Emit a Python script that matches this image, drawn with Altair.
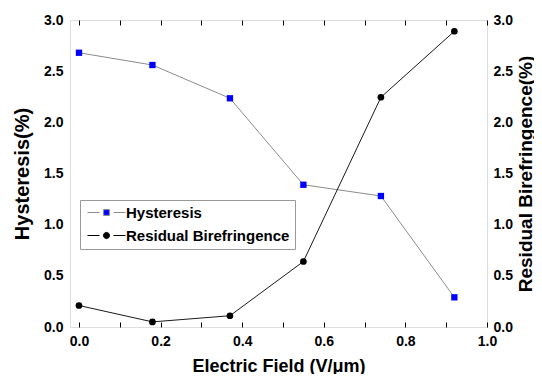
import altair as alt
import pandas as pd

# ---- data ----
field = [0.0, 0.18, 0.37, 0.55, 0.74, 0.92]
hysteresis = [2.68, 2.56, 2.235, 1.39, 1.28, 0.29]
residual = [0.21, 0.05, 0.11, 0.64, 2.245, 2.89]
series_names = ["Hysteresis", "Residual Birefringence"]
x_ticks = [0.0, 0.1, 0.2, 0.3, 0.4, 0.5, 0.6, 0.7, 0.8, 0.9, 1.0]
y_ticks = [0.0, 0.5, 1.0, 1.5, 2.0, 2.5, 3.0]

dfh = pd.DataFrame({"x": field, "y": hysteresis, "series": series_names[0]})
dfr = pd.DataFrame({"x": field, "y": residual, "series": series_names[1]})

FONT = "Liberation Sans"
xscale = alt.Scale(domain=[-0.022, 1.0], nice=False, zero=False)
yscale = alt.Scale(domain=[0, 3.0], nice=False)

bottom_axis = alt.Axis(
    orient="bottom", values=x_ticks, offset=-5, tickSize=5, tickColor="black",
    domain=False, grid=False,
    labelExpr="round(datum.value*10) % 2 == 0 ? format(datum.value, '.1f') : ''",
    labelPadding=7, labelFont=FONT, labelFontSize=14, labelFontWeight="bold",
    labelColor="black", labelFlush=False,
    title="Electric Field (V/\u03bcm)", titleFont=FONT, titleFontSize=18,
    titleFontWeight="bold", titleColor="black", titlePadding=9,
)
top_axis = alt.Axis(
    orient="top", values=x_ticks, offset=-5, tickSize=5, tickColor="black",
    domain=False, grid=False, labels=False, title=None,
)
left_axis = alt.Axis(
    orient="left", values=y_ticks, format=".1f", ticks=False, domain=False,
    grid=False, labelPadding=7, labelFont=FONT, labelFontSize=14,
    labelFontWeight="bold", labelColor="black",
    title="Hysteresis(%)", titleFont=FONT, titleFontSize=20,
    titleFontWeight="bold", titleColor="black", titlePadding=11,
)
right_axis = alt.Axis(
    orient="right", values=y_ticks, format=".1f", ticks=False, domain=False,
    grid=False, labelPadding=6, labelFont=FONT, labelFontSize=14,
    labelFontWeight="bold", labelColor="black",
    title="Residual Birefringence(%)", titleFont=FONT, titleFontSize=19,
    titleFontWeight="bold", titleColor="black", titleAngle=270,
    titleX=38, titleY=153.5, titleAlign="center", titleBaseline="middle",
)

sq_path = "M-3.8,0H-1.4M1.4,0H3.8M-0.58,-0.58H0.58V0.58H-0.58Z"
ci_path = ("M-3.8,0H-1.4M1.4,0H3.8M0.62,0A0.62,0.62 0 1,1 -0.62,0"
           "A0.62,0.62 0 1,1 0.62,0Z")

legend = alt.Legend(
    orient="none", legendX=10, legendY=180, title=None,
    labelFont=FONT, labelFontSize=15, labelFontWeight="bold", labelColor="black",
    labelLimit=400, symbolSize=100, symbolStrokeWidth=1, symbolOpacity=1,
    symbolOffset=14, labelOffset=12,
    rowPadding=7, padding=5, strokeColor="#999999", fillColor="white",
)

hx = alt.X("x:Q", scale=xscale, axis=bottom_axis)
hy = alt.Y("y:Q", scale=yscale, axis=left_axis)

h_line = alt.Chart(dfh).mark_line(color="#8c8c8c", strokeWidth=1).encode(x=hx, y=hy)
h_pts = alt.Chart(dfh).mark_square(color="#0000ff", size=40, opacity=1).encode(x=hx, y=hy)
h_leg = alt.Chart(dfh).mark_point(filled=True, opacity=0).encode(
    x=hx, y=hy,
    fill=alt.Fill("series:N", scale=alt.Scale(domain=series_names, range=["#0000ff", "black"]), legend=legend),
    stroke=alt.Stroke("series:N", scale=alt.Scale(domain=series_names, range=["#8c8c8c", "black"]), legend=legend),
    shape=alt.Shape("series:N", scale=alt.Scale(domain=series_names, range=[sq_path, ci_path]), legend=legend),
)
hyst = alt.layer(h_line, h_pts, h_leg)

rx = alt.X("x:Q", scale=xscale, axis=top_axis)
ry = alt.Y("y:Q", scale=yscale, axis=right_axis)
r_line = alt.Chart(dfr).mark_line(color="#1a1a1a", strokeWidth=1).encode(x=rx, y=ry)
r_pts = alt.Chart(dfr).mark_circle(color="black", size=45, opacity=1).encode(x=rx, y=ry)
resid = alt.layer(r_line, r_pts)

chart = (
    alt.layer(hyst, resid)
    .resolve_scale(x="independent", y="independent")
    .properties(
        width=417, height=307,
        autosize=alt.AutoSizeParams(type="none"),
        padding={"left": 62, "top": 12, "right": 47, "bottom": 47},
        background="white",
    )
    .configure_view(stroke="black", strokeWidth=1.2)
    .configure(font=FONT)
)

chart.save("out.html", embed_options={"renderer": "svg", "actions": False})
